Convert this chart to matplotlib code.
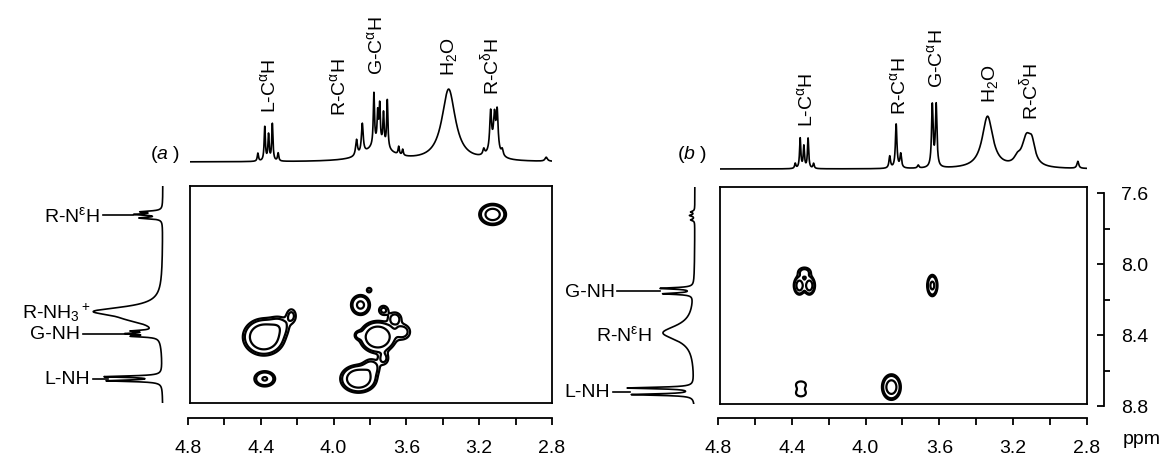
import numpy as np
import matplotlib
matplotlib.use("Agg")
from matplotlib import pyplot as plt
from matplotlib.ticker import MultipleLocator, FormatStrFormatter

plt.rcParams['font.family'] = ['Liberation Sans', 'DejaVu Sans']
plt.rcParams['mathtext.fontset'] = 'custom'
plt.rcParams['mathtext.rm'] = 'Liberation Sans'
plt.rcParams['mathtext.it'] = 'Liberation Sans:italic'
plt.rcParams['mathtext.bf'] = 'Liberation Sans:bold'

# ---- data: 1D peaks (ppm, height in px, half width in ppm) ----
top_a = [(4.425, 8, .004), (4.387, 34, .004), (4.366, 26, .004), (4.345, 37, .004), (4.313, 8, .004),
         (3.88, 16, .006), (3.848, 30, .006), (3.76, 16, .08),
         (3.784, 52, .004), (3.763, 30, .004), (3.752, 38, .004), (3.731, 32, .004), (3.71, 48, .004),
         (3.647, 8, .004), (3.625, 6, .004),
         (3.371, 72, .045),
         (3.177, 6, .006), (3.139, 38, .006), (3.118, 30, .006), (3.103, 38, .006), (3.075, 6, .006),
         (3.12, 12, .03), (2.832, 4, .008)]
top_b = [(4.39, 5, .004), (4.363, 30, .004), (4.343, 22, .004), (4.32, 30, .004), (4.29, 5, .004),
         (3.875, 12, .005), (3.84, 44, .005), (3.815, 14, .005),
         (3.643, 62, .005), (3.622, 62, .005), (3.72, 3, .005),
         (3.342, 52, .035),
         (3.13, 28, .03), (3.10, 18, .02), (3.18, 6, .02),
         (2.85, 7, .006)]
left_a = [(7.705, 20, .005), (7.72, 26, .005), (7.74, 22, .005),
          (8.265, 64, .03), (8.31, 18, .03),
          (8.375, 22, .005), (8.39, 28, .005), (8.405, 25, .005),
          (8.632, 56, .005), (8.655, 54, .005)]
left_b = [(7.70, 4, .005), (7.72, 5, .005), (7.745, 4, .005),
          (8.13, 33, .005), (8.16, 30, .005),
          (8.38, 32, .05),
          (8.69, 66, .005), (8.727, 62, .005)]

# ---- data: 2D cross peaks (x ppm, y ppm, sx, sy, amplitude) ----
cross_a = [(3.128, 7.72, .036, .029, 1.0),
           (4.392, 8.409, .05, .045, 1.8), (4.31, 8.35, .035, .035, .35), (4.24, 8.29, .02, .03, .25),
           (4.387, 8.644, .032, .024, .6),
           (3.858, 8.229, .028, .03, .7), (3.81, 8.145, .012, .012, .2),
           (3.763, 8.409, .045, .04, 1.6), (3.668, 8.305, .025, .025, .3), (3.731, 8.258, .02, .02, .25),
           (3.625, 8.38, .03, .03, .3), (3.869, 8.399, .015, .015, .25),
           (3.869, 8.644, .045, .035, 1.5), (3.80, 8.58, .03, .03, .35), (3.73, 8.53, .02, .025, .25)]
cross_b = [(4.367, 8.114, .015, .025, 1.0), (4.313, 8.114, .015, .025, 1.0), (4.34, 8.04, .025, .02, .3),
           (3.643, 8.114, .015, .032, .7),
           (4.359, 8.67, .03, .02, .17), (4.359, 8.72, .03, .02, .17),
           (3.866, 8.685, .025, .035, 1.0)]
levels = [0.12, 0.2, 0.55]

top_lab_a = [('L-C$^{\\mathrm{\\alpha}}$H', 4.366, 50), ('R-C$^{\\mathrm{\\alpha}}$H', 3.975, 47),
             ('G-C$^{\\mathrm{\\alpha}}$H', 3.774, 88), ('H$_2$O', 3.371, 87),
             ('R-C$^{\\mathrm{\\delta}}$H', 3.139, 68)]
top_lab_b = [('L-C$^{\\mathrm{\\alpha}}$H', 4.333, 43), ('R-C$^{\\mathrm{\\alpha}}$H', 3.825, 55),
             ('G-C$^{\\mathrm{\\alpha}}$H', 3.622, 82), ('H$_2$O', 3.328, 67),
             ('R-C$^{\\mathrm{\\delta}}$H', 3.115, 50)]
# (text, x end in px from baseline, ppm, leader start, leader end)
left_lab_a = [('R-N$^{\\mathrm{\\varepsilon}}$H', -63, 7.722, -60, -30),
              ('R-NH$_3$$^+$', -72, 8.265, None, None),
              ('G-NH', -83, 8.39, -80, -33),
              ('L-NH', -73, 8.645, -70, -55)]
left_lab_b = [('G-NH', -80, 8.145, -78, -35),
              ('R-N$^{\\mathrm{\\varepsilon}}$H', -43, 8.385, None, None),
              ('L-NH', -85, 8.71, -82, -65)]

xticks_major = [4.8, 4.4, 4.0, 3.6, 3.2, 2.8]
yticks_major = [7.6, 8.0, 8.4, 8.8]

W, H = 1164, 460
fig = plt.figure(figsize=(W / 100, H / 100), dpi=100)


def box(x0, y0, x1, y1):
    return fig.add_axes([x0 / W, 1 - y1 / H, (x1 - x0) / W, (y1 - y0) / H])


def lor(x, peaks):
    s = np.zeros_like(x)
    for p, h, w in peaks:
        s += h * w ** 2 / ((x - p) ** 2 + w ** 2)
    return s


def surf(X, Y, peaks):
    Z = np.zeros_like(X)
    for x0, y0, sx, sy, a in peaks:
        Z += a * np.exp(-0.5 * ((X - x0) / sx) ** 2 - 0.5 * ((Y - y0) / sy) ** 2)
    return Z


xs = np.linspace(4.8, 2.8, 4000)
ys = np.linspace(7.5, 8.85, 3000)
gx, gy = np.meshgrid(np.linspace(4.8, 2.8, 500), np.linspace(7.5, 8.85, 400))


def panel(bx0, bx1, by0, by1, base_top, base_left, top, left, cross, tlabs, llabs, tag, tagx):
    # 2D box
    ax = box(bx0, by0, bx1, by1)
    ax.contour(gx, gy, surf(gx, gy, cross), levels=levels, colors='k', linewidths=1.6)
    ax.set_xlim(4.8, 2.8)
    ax.set_ylim(8.78, 7.56)
    ax.set_xticks([])
    ax.set_yticks([])
    for s in ax.spines.values():
        s.set_linewidth(1.3)

    # top spectrum
    at = box(bx0, base_top - 160, bx1, base_top + 3)
    at.plot(xs, lor(xs, top), 'k', lw=1.2)
    at.set_xlim(4.8, 2.8)
    at.set_ylim(-3, 160)
    at.axis('off')
    for t, p, h in tlabs:
        at.text(p, h, t, rotation=90, ha='center', va='bottom', fontsize=14)
    fig.text(tagx / W, 1 - 155 / H, '(' + '$\\mathit{' + tag + '}$' + ' )', fontsize=14, va='center')

    # left spectrum
    al = box(base_left - 105, by0, base_left + 5, by1)
    al.plot(-lor(ys, left), ys, 'k', lw=1.2)
    al.set_xlim(-105, 5)
    al.set_ylim(8.78, 7.56)
    al.axis('off')
    for t, xe, p, l0, l1 in llabs:
        al.text(xe, p, t, ha='right', va='center', fontsize=14, clip_on=False)
        if l0 is not None:
            al.plot([l0, l1], [p, p], 'k', lw=1.2, clip_on=False)

    # x scale
    axx = box(bx0 - 2, 418, bx1, 419)
    for k in ['left', 'right', 'top']:
        axx.spines[k].set_visible(False)
    axx.spines['bottom'].set_linewidth(1.3)
    axx.set_xlim(4.8, 2.8)
    axx.set_yticks([])
    axx.set_xticks(xticks_major)
    axx.xaxis.set_major_formatter(FormatStrFormatter('%.1f'))
    axx.xaxis.set_minor_locator(MultipleLocator(0.2))
    axx.tick_params(axis='x', which='both', direction='out', length=5, width=1.3, labelsize=14, pad=10)
    axx.patch.set_visible(False)


panel(190, 552, 187, 404, 163, 163, top_a, left_a, cross_a, top_lab_a, left_lab_a, 'a', 150)
panel(720, 1087, 188, 405, 170, 695, top_b, left_b, cross_b, top_lab_b, left_lab_b, 'b', 677)

# right ppm scale of panel b
ay = box(1100, 194, 1104, 407)
for k in ['left', 'bottom', 'top']:
    ay.spines[k].set_visible(False)
ay.spines['right'].set_linewidth(1.3)
ay.set_ylim(8.8, 7.6)
ay.set_xticks([])
ay.yaxis.tick_right()
ay.set_yticks(yticks_major)
ay.yaxis.set_major_formatter(FormatStrFormatter('%.1f'))
ay.yaxis.set_minor_locator(MultipleLocator(0.2))
ay.tick_params(axis='y', which='major', direction='in', length=5, width=1.3, labelsize=14, pad=12)
ay.tick_params(axis='y', which='minor', direction='out', length=4, width=1.3)
ay.patch.set_visible(False)

fig.text(1161 / W, 1 - 440 / H, 'ppm', fontsize=14, ha='right', va='center')

fig.savefig('out.png', dpi=100)
